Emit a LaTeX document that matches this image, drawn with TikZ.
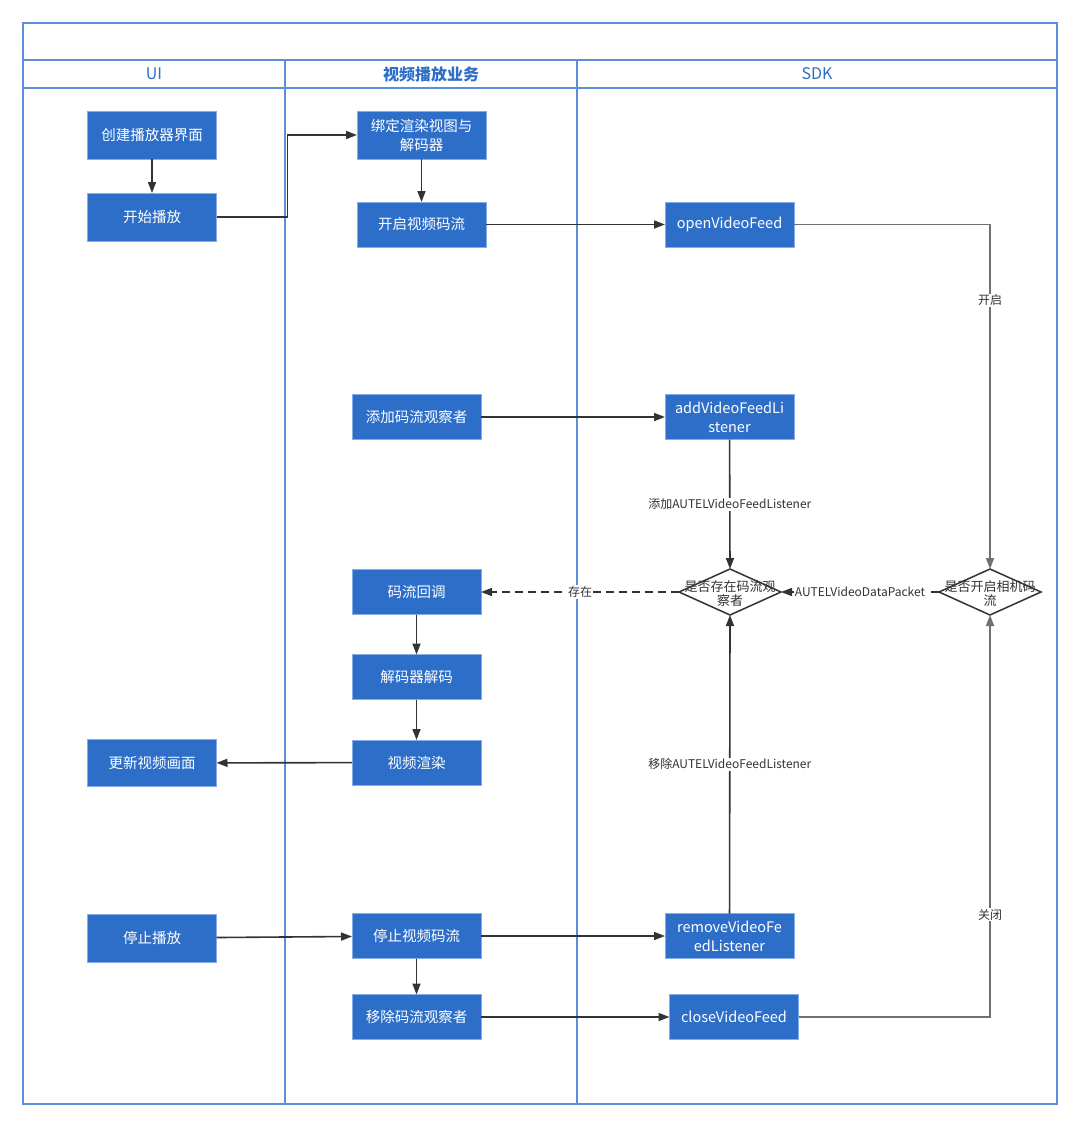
\documentclass[tikz,border=0pt]{standalone}
\usepackage{fontspec}
\setmainfont{Noto Sans CJK SC}
\usetikzlibrary{arrows.meta,shapes.geometric}
\definecolor{boxblue}{HTML}{2D6EC9}
\definecolor{boxedge}{HTML}{86ADE8}
\definecolor{lanec}{HTML}{5B8EDB}
\definecolor{hdrc}{HTML}{2D6EC9}
\definecolor{lnc}{HTML}{333333}
\definecolor{glc}{HTML}{707070}
\tikzset{
  proc/.style={draw=boxedge, fill=boxblue, text=white, font=\fontsize{14.5}{19}\selectfont,
    minimum width=129pt, minimum height=45pt, inner sep=2pt, outer sep=0pt, align=center, line width=0.8pt},
  decis/.style={draw=lnc, fill=white, diamond, minimum width=102pt, minimum height=46pt,
    inner sep=0pt, outer sep=0pt, line width=1.5pt},
  dtext/.style={text=lnc, font=\fontsize{13}{14}\selectfont, align=center, inner sep=0pt},
  conn/.style={draw=lnc, line width=1.6pt, -{Triangle[length=11pt,width=8pt]}},
  gconn/.style={draw=glc, line width=1.6pt, -{Triangle[length=11pt,width=8pt]}},
  dconn/.style={draw=lnc, line width=1.6pt, dashed, dash pattern=on 8pt off 5pt, -{Triangle[length=11pt,width=8pt]}},
  lbl/.style={fill=white, text=lnc, font=\fontsize{12}{14}\selectfont, inner sep=1pt},
  lanes/.style={draw=lanec, line width=1.2pt},
  hdr/.style={text=hdrc, font=\fontsize{16}{18}\selectfont},
}
\begin{document}
\begin{tikzpicture}[x=1pt,y=-1pt]
\useasboundingbox[fill=white] (0,0) rectangle (1080,1127);
% frame and lanes
\draw[lanes] (23,23) rectangle (1057,1104);
\draw[lanes] (23,60) -- (1057,60);
\draw[lanes] (23,88) -- (1057,88);
\draw[lanes] (285,60) -- (285,1104);
\draw[lanes] (577,60) -- (577,1104);
\node[hdr] (hui) at (154,74) {UI};
\node[hdr, font=\fontsize{16}{18}\selectfont\bfseries] (hbiz) at (431,74) {视频播放业务};
\node[hdr] (hsdk) at (817,74) {SDK};
% UI lane
\node[proc, minimum height=48pt] (create) at (152,135) {创建播放器界面};
\node[proc, minimum height=48pt] (start) at (152,217) {开始播放};
\node[proc, minimum height=47pt] (update) at (152,763) {更新视频画面};
\node[proc, minimum height=48pt] (stopplay) at (152,938) {停止播放};
% business lane
\node[proc, minimum height=48pt] (bind) at (421.5,135) {绑定渲染视图与\\解码器};
\node[proc] (openstream) at (421.5,224.5) {开启视频码流};
\node[proc] (addobs) at (416.5,417) {添加码流观察者};
\node[proc] (callback) at (416.5,592) {码流回调};
\node[proc] (decode) at (416.5,677) {解码器解码};
\node[proc] (render) at (416.5,762.5) {视频渲染};
\node[proc] (stopstream) at (416.5,936) {停止视频码流};
\node[proc] (removeobs) at (416.5,1017) {移除码流观察者};
% SDK lane
\node[proc] (openfeed) at (729.5,224.5) {openVideoFeed};
\node[proc] (addlis) at (729.5,417) {addVideoFeedLi\\stener};
\node[proc] (remlis) at (729.5,936) {removeVideoFe\\edListener};
\node[proc] (closefeed) at (734,1017) {closeVideoFeed};
\node[decis] (d1) at (730,592) {};
\node[decis] (d2) at (990,592) {};
% connectors
\draw[conn] (create) -- (start);
\draw[conn] (start.east) -- ++(71,0) |- (bind.west);
\draw[conn] (bind) -- (openstream);
\draw[conn] (openstream) -- (openfeed);
\draw[gconn] (openfeed.east) -| node[lbl, pos=0.61] (lopen) {开启} (d2.north);
\draw[conn] (addobs) -- (addlis);
\draw[conn] (addlis) -- node[lbl] (ladd) {添加AUTELVideoFeedListener} (d1.north);
\draw[dconn] (d2.west) -- node[lbl] (lpkt) {AUTELVideoDataPacket} (d1.east);
\draw[dconn] (d1.west) -- node[lbl] (lexist) {存在} (callback.east);
\draw[conn] (callback) -- (decode);
\draw[conn] (decode) -- (render);
\draw[conn] (render) -- (update);
\draw[conn] (stopplay) -- (stopstream);
\draw[conn] (stopstream) -- (removeobs);
\draw[conn] (stopstream) -- (remlis);
\draw[conn] (removeobs) -- (closefeed);
\draw[conn] (remlis) -- node[lbl] (lrem) {移除AUTELVideoFeedListener} (d1.south);
\draw[gconn] (closefeed.east) -| node[lbl, pos=0.627] (lclose) {关闭} (d2.south);
% diamond texts on top
\node[dtext] (d1t) at (730,594) {是否存在码流观\\察者};
\node[dtext] (d2t) at (990,594) {是否开启相机码\\流};
\end{tikzpicture}
\end{document}
